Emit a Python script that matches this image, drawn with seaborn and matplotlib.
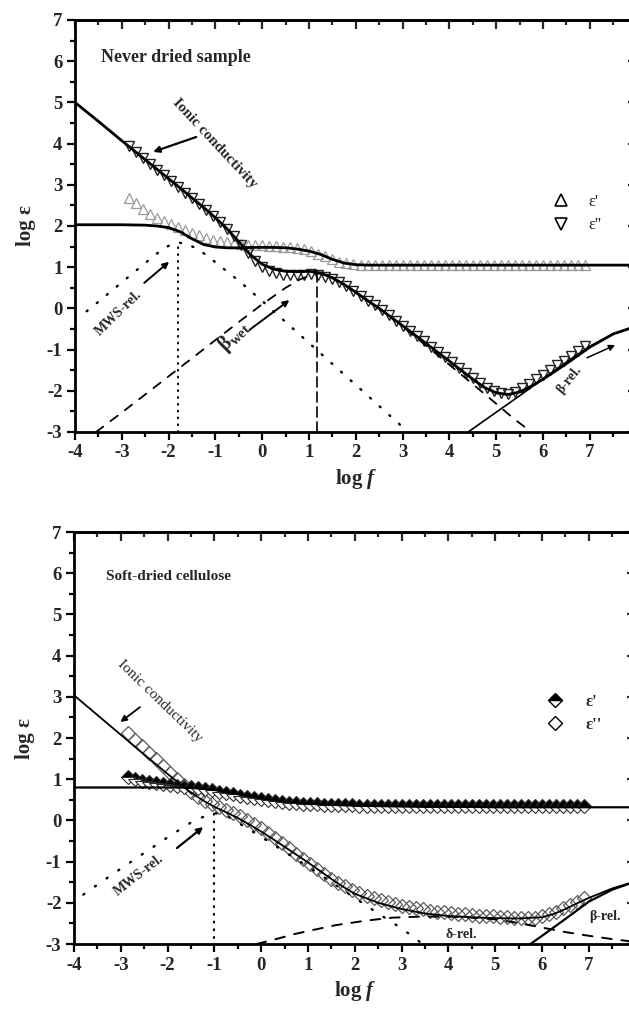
import numpy as np
import pandas as pd
import matplotlib
matplotlib.use("Agg")
import matplotlib.pyplot as plt
from matplotlib.ticker import MultipleLocator
from matplotlib.lines import Line2D
import seaborn as sns

# ---------------------------------------------------------------- data
# measured frequency sweep, log f
LOG_F = np.round(np.arange(-2.85, 6.91, 0.15), 2)

# never dried sample: measured permittivity (log scale)
NEVER_EPS1 = [2.68, 2.55, 2.42, 2.30, 2.20, 2.12, 2.04, 1.97, 1.90, 1.83, 1.77,
              1.71, 1.67, 1.63, 1.60, 1.58, 1.56, 1.55, 1.54, 1.53, 1.52, 1.51,
              1.50, 1.48, 1.46, 1.43, 1.39, 1.33, 1.26, 1.19, 1.13, 1.09, 1.07,
              1.06, 1.06, 1.06, 1.05, 1.05, 1.05, 1.05, 1.05, 1.05, 1.05, 1.05,
              1.05, 1.05, 1.05, 1.05, 1.05, 1.05, 1.05, 1.05, 1.05, 1.05, 1.05,
              1.05, 1.05, 1.05, 1.05, 1.05, 1.05, 1.05, 1.05, 1.05, 1.05, 1.05]
NEVER_EPS2 = [3.93, 3.79, 3.65, 3.51, 3.37, 3.23, 3.09, 2.95, 2.81, 2.67, 2.53,
              2.39, 2.24, 2.09, 1.93, 1.75, 1.55, 1.35, 1.16, 1.01, 0.91, 0.85,
              0.82, 0.81, 0.81, 0.82, 0.83, 0.81, 0.76, 0.72, 0.64, 0.54, 0.43,
              0.31, 0.19, 0.07, -0.05, -0.17, -0.30, -0.42, -0.55, -0.68, -0.80,
              -0.93, -1.06, -1.19, -1.31, -1.44, -1.57, -1.70, -1.82, -1.93,
              -2.01, -2.06, -2.07, -2.03, -1.93, -1.83, -1.72, -1.61, -1.50,
              -1.38, -1.27, -1.15, -1.03, -0.92]

# never dried sample: fitted curves
NEVER_FIT_X = [-4, -3.5, -3, -2.5, -2.25, -2, -1.75, -1.5, -1.25, -1, -0.75,
               -0.5, -0.25, 0, 0.25, 0.5, 0.75, 1, 1.25, 1.5, 1.75, 2, 2.25,
               2.5, 3, 3.5, 4, 4.5, 4.75, 5, 5.25, 5.5, 5.75, 6, 6.5, 7, 7.5, 8]
NEVER_FIT_EPS1 = [2.03, 2.03, 2.03, 2.02, 2.00, 1.96, 1.86, 1.69, 1.55, 1.49,
                  1.47, 1.47, 1.48, 1.48, 1.48, 1.47, 1.44, 1.39, 1.31, 1.19,
                  1.10, 1.06, 1.05, 1.05, 1.05, 1.05, 1.05, 1.05, 1.05, 1.05,
                  1.05, 1.05, 1.05, 1.05, 1.05, 1.05, 1.05, 1.05]
NEVER_FIT_EPS2 = [5.00, 4.54, 4.07, 3.61, 3.38, 3.15, 2.92, 2.68, 2.45, 2.20,
                  1.93, 1.62, 1.30, 1.07, 0.95, 0.90, 0.89, 0.90, 0.86, 0.74,
                  0.58, 0.39, 0.19, 0.00, -0.42, -0.85, -1.28, -1.72, -1.92,
                  -2.05, -2.09, -2.03, -1.89, -1.72, -1.34, -0.94, -0.62, -0.43]
NEVER_MWS_X = [-3.75, -3.5, -3, -2.5, -2.25, -2, -1.8, -1.6, -1.4, -1.2, -1,
               -0.5, 0, 0.5, 1, 1.5, 2, 2.5, 2.9, 3.1]
NEVER_MWS_Y = [-0.07, 0.16, 0.63, 1.10, 1.33, 1.52, 1.60, 1.56, 1.45, 1.30,
               1.12, 0.67, 0.18, -0.33, -0.84, -1.35, -1.86, -2.37, -2.78, -2.98]
NEVER_BWET_X = [-3.55, -3, -2.5, -2, -1.5, -1, -0.5, 0, 0.5, 0.8, 1.16, 1.5,
                2, 2.5, 3, 3.5, 4, 4.5, 4.9, 5.4, 5.75]
NEVER_BWET_Y = [-3.00, -2.53, -2.09, -1.65, -1.21, -0.77, -0.33, 0.10, 0.50,
                0.70, 0.86, 0.76, 0.40, 0.00, -0.44, -0.90, -1.37, -1.84,
                -2.22, -2.70, -3.00]
NEVER_BREL_X = [4.4, 5, 5.5, 6, 6.5, 7, 7.5, 8]
NEVER_BREL_Y = [-3.00, -2.52, -2.12, -1.71, -1.30, -0.92, -0.62, -0.43]
NEVER_MWS_PEAK = -1.8
NEVER_BWET_PEAK = 1.16

# soft-dried cellulose: measured permittivity (log scale)
SOFT_EPS1 = [1.05, 1.00, 0.96, 0.93, 0.90, 0.88, 0.86, 0.84, 0.82, 0.80, 0.78,
             0.76, 0.73, 0.70, 0.67, 0.63, 0.60, 0.57, 0.54, 0.51, 0.49, 0.47,
             0.45, 0.43, 0.42, 0.41, 0.40, 0.39, 0.38, 0.38, 0.37, 0.37, 0.37,
             0.36, 0.36, 0.36, 0.36, 0.35, 0.35, 0.35, 0.35, 0.35, 0.35, 0.35,
             0.34, 0.34, 0.34, 0.34, 0.34, 0.34, 0.34, 0.34, 0.34, 0.34, 0.34,
             0.34, 0.34, 0.34, 0.34, 0.34, 0.34, 0.34, 0.34, 0.34, 0.34, 0.34]
SOFT_EPS2 = [2.12, 1.96, 1.80, 1.64, 1.48, 1.32, 1.16, 1.00, 0.85, 0.70, 0.57,
             0.47, 0.39, 0.32, 0.26, 0.19, 0.11, 0.02, -0.08, -0.19, -0.30,
             -0.42, -0.55, -0.68, -0.81, -0.94, -1.06, -1.18, -1.30, -1.41,
             -1.51, -1.60, -1.68, -1.76, -1.83, -1.89, -1.94, -1.99, -2.03,
             -2.07, -2.10, -2.13, -2.16, -2.19, -2.21, -2.23, -2.25, -2.27,
             -2.28, -2.30, -2.31, -2.32, -2.33, -2.34, -2.35, -2.36, -2.37,
             -2.37, -2.36, -2.33, -2.28, -2.21, -2.13, -2.05, -1.97, -1.88]

# soft-dried cellulose: fitted curves
SOFT_FIT_X = [-4, -3.5, -3, -2.5, -2, -1.75, -1.5, -1.25, -1, -0.75, -0.5,
              -0.25, 0, 0.25, 0.5, 0.75, 1, 1.25, 1.5, 1.75, 2, 2.5, 3, 3.5, 4,
              4.5, 5, 5.5, 6, 6.25, 6.5, 6.75, 7, 7.5, 8]
SOFT_FIT_EPS1 = [0.80, 0.80, 0.80, 0.80, 0.80, 0.80, 0.79, 0.77, 0.74, 0.69,
                 0.64, 0.59, 0.54, 0.50, 0.46, 0.43, 0.41, 0.39, 0.38, 0.37,
                 0.36, 0.35, 0.34, 0.33, 0.33, 0.33, 0.32, 0.32, 0.32, 0.32,
                 0.32, 0.32, 0.32, 0.32, 0.32]
SOFT_FIT_EPS2 = [3.04, 2.56, 2.08, 1.60, 1.13, 0.90, 0.68, 0.49, 0.33, 0.20,
                 0.06, -0.10, -0.27, -0.45, -0.64, -0.83, -1.02, -1.22, -1.42,
                 -1.61, -1.78, -2.00, -2.15, -2.26, -2.32, -2.35, -2.37, -2.38,
                 -2.35, -2.27, -2.15, -2.01, -1.88, -1.65, -1.48]
SOFT_MWS_X = [-3.8, -3.5, -3, -2.5, -2, -1.5, -1.25, -1, -0.75, -0.5, 0, 0.5,
              1, 1.5, 2, 2.5, 3, 3.45]
SOFT_MWS_Y = [-1.80, -1.56, -1.17, -0.79, -0.41, -0.05, 0.08, 0.18, 0.12,
              -0.05, -0.40, -0.76, -1.12, -1.50, -1.88, -2.26, -2.62, -3.00]
SOFT_DELTA_X = [-0.1, 0.35, 0.7, 1.1, 1.6, 2.25, 2.8, 3.5, 4.25, 5, 5.5, 6,
                6.5, 7, 7.5, 8]
SOFT_DELTA_Y = [-3.00, -2.87, -2.76, -2.66, -2.54, -2.43, -2.36, -2.33, -2.34,
                -2.40, -2.49, -2.60, -2.71, -2.80, -2.88, -2.95]
SOFT_BREL_X = [5.75, 6, 6.5, 7, 7.5, 8]
SOFT_BREL_Y = [-3.00, -2.80, -2.39, -1.97, -1.68, -1.48]
SOFT_MWS_PEAK = -1.0

TICKS_X = list(range(-4, 9))
TICKS_Y = list(range(-3, 8))
TOP_XLABELS = [str(t) for t in TICKS_X[:-1]] + [""]
BOT_XLABELS = [str(t) for t in TICKS_X]

# ---------------------------------------------------------------- style
sns.set_theme(style="ticks")
plt.rcParams["font.family"] = ["Liberation Serif", "DejaVu Serif"]
plt.rcParams["font.weight"] = "bold"
plt.rcParams["axes.unicode_minus"] = False
plt.rcParams["mathtext.fontset"] = "custom"
plt.rcParams["mathtext.rm"] = "Liberation Serif:bold"
plt.rcParams["mathtext.it"] = "Liberation Serif:italic:bold"
plt.rcParams["mathtext.bf"] = "Liberation Serif:bold"
plt.rcParams["lines.solid_capstyle"] = "round"

fig = plt.figure(figsize=(6.29, 10.10), dpi=100)
ax_top = fig.add_axes([0.1192, 0.5723, 0.893, 0.4079])
ax_bot = fig.add_axes([0.1176, 0.0653, 0.893, 0.4079])


def curve(ax, x, y, lw=1.8, ls="-", z=3):
    sns.lineplot(x=x, y=y, ax=ax, color="black", lw=lw, linestyle=ls,
                 estimator=None, sort=False, legend=False, zorder=z,
                 dash_capstyle="round")


def markers(ax, y, marker, edge, ms=7.5, mew=0.9, **kw):
    sns.lineplot(x=LOG_F, y=y, ax=ax, color=edge, linestyle="", marker=marker,
                 markersize=ms, markeredgewidth=mew, markeredgecolor=edge,
                 estimator=None, sort=False, legend=False, zorder=2, **kw)


def frame(ax, xlabels):
    ax.set_xlim(-4, 8)
    ax.set_ylim(-3, 7)
    ax.set_xticks(TICKS_X, xlabels)
    ax.set_yticks(TICKS_Y)
    ax.xaxis.set_minor_locator(MultipleLocator(0.5))
    ax.yaxis.set_minor_locator(MultipleLocator(0.5))
    ax.tick_params(which="both", direction="out", top=False, right=False,
                   labelsize=13.5, width=1.6, color="black", pad=3)
    ax.tick_params(which="major", length=6)
    ax.tick_params(which="minor", length=3.5)
    for lab in ax.get_xticklabels() + ax.get_yticklabels():
        lab.set_fontweight("bold")
    for sp in ax.spines.values():
        sp.set_visible(True)
        sp.set_linewidth(2.0)
        sp.set_color("black")
    sx = ax.secondary_xaxis("top")
    sx.set_xticks(TICKS_X)
    sx.xaxis.set_minor_locator(MultipleLocator(0.5))
    sx.tick_params(which="both", direction="in", labeltop=False, width=1.6)
    sx.tick_params(which="major", length=6.5)
    sx.tick_params(which="minor", length=3.5)
    sx.spines["top"].set_linewidth(2.0)
    sy = ax.secondary_yaxis("right")
    sy.set_yticks(TICKS_Y)
    sy.yaxis.set_minor_locator(MultipleLocator(0.5))
    sy.tick_params(which="both", direction="in", labelright=False, width=1.6)
    sy.tick_params(which="major", length=6.5)
    sy.tick_params(which="minor", length=3.5)
    ax.set_xlabel(r"log $f$", fontsize=15, fontweight="bold", labelpad=4)
    ax.set_ylabel("log ε", fontsize=15, fontweight="bold", labelpad=8)
    ax.grid(False)


def arrow(ax, start, end, lw=1.4):
    ax.annotate("", xy=end, xytext=start,
                arrowprops=dict(arrowstyle="-|>", color="black", lw=lw,
                                mutation_scale=9, shrinkA=0, shrinkB=0))


# ---------------------------------------------------------------- never dried
ax = ax_top
markers(ax, NEVER_EPS1, "^", "#9a9a9a", markerfacecolor="none")
markers(ax, NEVER_EPS2, "v", "#222222", mew=1.0, markerfacecolor="none")
curve(ax, NEVER_FIT_X, NEVER_FIT_EPS1, lw=2.0)
curve(ax, NEVER_FIT_X, NEVER_FIT_EPS2, lw=2.0)
curve(ax, NEVER_MWS_X, NEVER_MWS_Y, lw=1.7, ls=(0, (0.5, 5)))
curve(ax, NEVER_BWET_X, NEVER_BWET_Y, lw=1.3, ls=(0, (5, 5)))
curve(ax, NEVER_BREL_X, NEVER_BREL_Y, lw=1.2)
curve(ax, [NEVER_MWS_PEAK, NEVER_MWS_PEAK], [-3, NEVER_MWS_Y[6]], lw=1.4,
      ls=(0, (0.5, 3)))
curve(ax, [NEVER_BWET_PEAK, NEVER_BWET_PEAK], [-3, NEVER_BWET_Y[10]], lw=1.2,
      ls=(0, (6, 3)))
frame(ax, TOP_XLABELS)

ax.text(-3.44, 6.1, "Never dried sample", fontsize=13, fontweight="bold",
        ha="left", va="center")
ax.text(-1.02, 4.0, "Ionic conductivity", fontsize=11, fontweight="bold",
        rotation=-47, ha="center", va="center", rotation_mode="anchor")
arrow(ax, (-1.41, 4.16), (-2.33, 3.80), lw=1.6)
ax.text(-3.06, -0.11, "MWS-rel.", fontsize=10, fontweight="bold",
        rotation=44, ha="center", va="center", rotation_mode="anchor")
arrow(ax, (-2.52, 0.62), (-1.99, 1.13))
ax.text(-0.6, -0.67, r"β$_{\rm wet}$", fontsize=15, fontweight="bold",
        rotation=45, ha="center", va="center", rotation_mode="anchor")
arrow(ax, (-0.27, -0.52), (0.58, 0.20))
ax.text(6.56, -1.74, "β-rel.", fontsize=10, fontweight="bold",
        rotation=51, ha="center", va="center", rotation_mode="anchor")
arrow(ax, (6.94, -1.20), (7.54, -0.89), lw=1.1)

top_handles = [
    Line2D([], [], ls="", marker="^", ms=9, mfc="none", mec="black", mew=1.2),
    Line2D([], [], ls="", marker="v", ms=9, mfc="none", mec="black", mew=1.2),
]
ax.legend(top_handles, ["ε'", "ε''"], loc="center left",
          bbox_to_anchor=(0.836, 0.53), frameon=False, handlelength=1.0,
          handletextpad=1.1, labelspacing=0.45, borderpad=0,
          prop={"family": "Liberation Serif", "size": 12, "weight": "normal"})

# ---------------------------------------------------------------- soft-dried
ax = ax_bot
markers(ax, SOFT_EPS2, "D", "#5a5a5a", ms=7.5, mew=0.9, markerfacecolor="none")
markers(ax, SOFT_EPS1, "D", "#303030", ms=7.5, mew=0.8, fillstyle="top",
        markerfacecolor="black", markerfacecoloralt="white")
curve(ax, SOFT_FIT_X, SOFT_FIT_EPS1, lw=1.6)
curve(ax, SOFT_FIT_X, SOFT_FIT_EPS2, lw=1.3)
curve(ax, SOFT_MWS_X, SOFT_MWS_Y, lw=1.7, ls=(0, (0.5, 5.5)))
curve(ax, SOFT_DELTA_X, SOFT_DELTA_Y, lw=1.4, ls=(0, (5, 5)))
curve(ax, SOFT_BREL_X, SOFT_BREL_Y, lw=1.6)
curve(ax, [SOFT_MWS_PEAK, SOFT_MWS_PEAK], [-2.85, SOFT_MWS_Y[7]], lw=1.5,
      ls=(0, (0.5, 3.2)))
frame(ax, BOT_XLABELS)

ax.text(-3.31, 5.91, "Soft-dried cellulose", fontsize=11, fontweight="bold",
        ha="left", va="center")
ax.text(-2.16, 2.9, "Ionic conductivity", fontsize=11, fontweight="normal",
        rotation=-44, ha="center", va="center", rotation_mode="anchor")
arrow(ax, (-2.59, 2.75), (-3.01, 2.39), lw=1.3)
ax.text(-2.61, -1.33, "MWS-rel.", fontsize=10, fontweight="bold",
        rotation=38, ha="center", va="center", rotation_mode="anchor")
arrow(ax, (-1.80, -0.67), (-1.24, -0.16), lw=1.6)
ax.text(4.27, -2.78, "δ-rel.", fontsize=10, fontweight="bold",
        ha="center", va="center")
ax.text(7.35, -2.34, "β-rel.", fontsize=10, fontweight="bold",
        ha="center", va="center")

bot_handles = [
    Line2D([], [], ls="", marker="D", ms=7.5, fillstyle="top", mfc="black",
           mfcalt="white", mec="black", mew=1.0),
    Line2D([], [], ls="", marker="D", ms=7.5, mfc="none", mec="black",
           mew=1.0),
]
ax.legend(bot_handles, ["ε'", "ε''"], loc="center left",
          bbox_to_anchor=(0.827, 0.56), frameon=False, handlelength=1.0,
          handletextpad=1.3, labelspacing=0.45, borderpad=0,
          prop={"family": "Liberation Serif", "size": 12, "weight": "bold"})

fig.savefig("out.png", dpi=100)
